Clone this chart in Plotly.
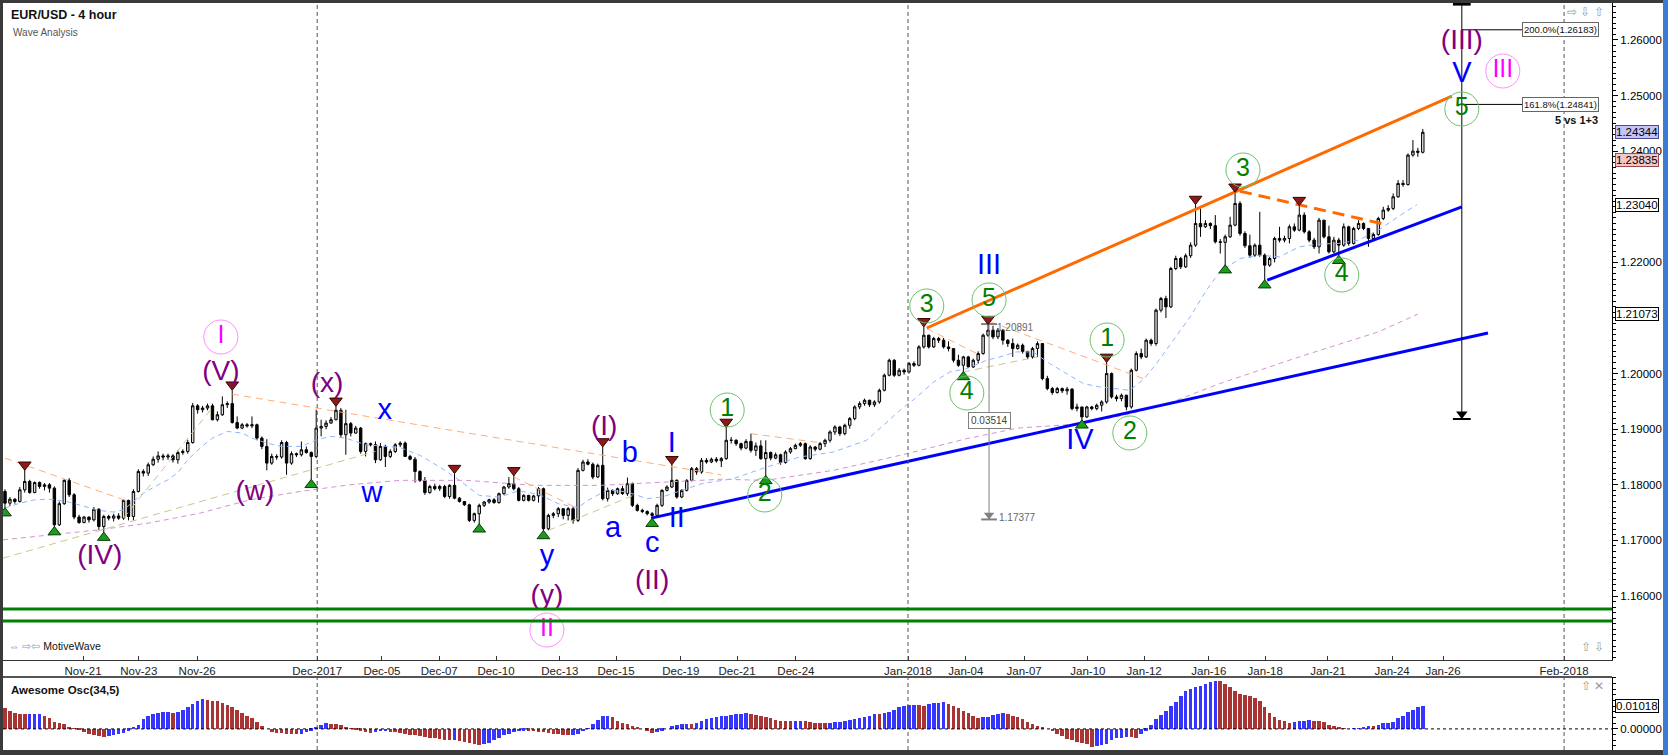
import numpy as np
import plotly.graph_objects as go

FONT = "Liberation Sans, Arial, sans-serif"

# EUR/USD 4-hour bars, prices in 1/10000 units; each bar opens at the previous close
first_open = 11788
closes = [
    11767, 11774, 11770, 11791, 11806, 11786, 11804, 11797, 11800, 11794,
    11728, 11766, 11808, 11782, 11742, 11732, 11742, 11737, 11756, 11725,
    11743, 11740, 11744, 11740, 11772, 11743, 11788, 11824, 11821, 11836,
    11846, 11852, 11850, 11852, 11845, 11858, 11860, 11876, 11942, 11935,
    11938, 11942, 11917, 11926, 11944, 11946, 11912, 11902, 11908, 11906,
    11908, 11884, 11869, 11839, 11851, 11850, 11876, 11839, 11856, 11854,
    11863, 11858, 11851, 11902, 11905, 11911, 11917, 11934, 11890, 11910,
    11893, 11902, 11860, 11874, 11872, 11845, 11869, 11851, 11860, 11872,
    11875, 11851, 11846, 11824, 11808, 11786, 11797, 11793, 11797, 11779,
    11799, 11776, 11770, 11764, 11736, 11748, 11763, 11769, 11773, 11768,
    11784, 11796, 11802, 11793, 11772, 11781, 11772, 11780, 11793, 11721,
    11745, 11748, 11757, 11745, 11757, 11736, 11826, 11841, 11837, 11814,
    11835, 11775, 11790, 11784, 11793, 11784, 11802, 11763, 11754, 11752,
    11748, 11745, 11763, 11790, 11796, 11808, 11778, 11790, 11808, 11829,
    11823, 11844, 11841, 11846, 11843, 11847, 11880, 11880, 11874, 11866,
    11878, 11862, 11870, 11847, 11858, 11848, 11854, 11840, 11859, 11865,
    11871, 11874, 11847, 11868, 11864, 11874, 11880, 11895, 11904, 11892,
    11907, 11919, 11940, 11946, 11952, 11944, 11949, 11970, 11997, 12024,
    11997, 12006, 12003, 12018, 12015, 12048, 12069, 12048, 12063, 12060,
    12048, 12045, 12024, 12015, 12030, 12012, 12024, 12036, 12069, 12078,
    12066, 12078, 12060, 12054, 12045, 12051, 12040, 12030, 12045, 12054,
    11991, 11973, 11966, 11973, 11969, 11972, 11937, 11940, 11922, 11940,
    11937, 11943, 11949, 12000, 11958, 11955, 11961, 11940, 12006, 12036,
    12030, 12060, 12054, 12114, 12135, 12120, 12189, 12207, 12192, 12212,
    12231, 12270, 12264, 12270, 12266, 12237, 12236, 12246, 12267, 12306,
    12252, 12230, 12213, 12231, 12213, 12195, 12207, 12243, 12240, 12243,
    12264, 12258, 12285, 12255, 12240, 12228, 12276, 12246, 12219, 12240,
    12231, 12264, 12234, 12261, 12270, 12261, 12243, 12250, 12279, 12294,
    12297, 12318, 12342, 12340, 12393, 12400, 12398, 12434,
]
highs = [
    11792, 11778, 11776, 11796, 11827, 11809, 11806, 11806, 11803, 11803,
    11797, 11770, 11810, 11812, 11785, 11746, 11744, 11743, 11760, 11758,
    11746, 11746, 11748, 11749, 11774, 11773, 11792, 11828, 11828, 11840,
    11851, 11860, 11856, 11856, 11855, 11862, 11864, 11881, 11947, 11945,
    11942, 11946, 11946, 11932, 11959, 11950, 11970, 11923, 11911, 11911,
    11923, 11910, 11887, 11882, 11856, 11855, 11880, 11879, 11860, 11858,
    11878, 11869, 11860, 11935, 11917, 11916, 11922, 11942, 11938, 11935,
    11913, 11906, 11904, 11876, 11876, 11878, 11875, 11872, 11864, 11875,
    11878, 11878, 11854, 11850, 11826, 11814, 11800, 11802, 11800, 11800,
    11801, 11820, 11778, 11770, 11766, 11750, 11766, 11771, 11775, 11776,
    11786, 11798, 11814, 11818, 11796, 11783, 11782, 11782, 11796, 11795,
    11748, 11751, 11760, 11757, 11760, 11760, 11830, 11845, 11846, 11840,
    11838, 11869, 11795, 11792, 11795, 11798, 11813, 11804, 11766, 11757,
    11754, 11751, 11766, 11792, 11799, 11837, 11810, 11792, 11810, 11832,
    11832, 11848, 11848, 11849, 11850, 11850, 11904, 11886, 11882, 11876,
    11882, 11892, 11876, 11880, 11880, 11860, 11858, 11856, 11862, 11868,
    11874, 11877, 11876, 11871, 11870, 11877, 11883, 11898, 11907, 11906,
    11910, 11922, 11943, 11950, 11955, 11953, 11952, 11973, 12000, 12027,
    12026, 12010, 12009, 12021, 12022, 12051, 12085, 12070, 12066, 12066,
    12064, 12058, 12046, 12034, 12032, 12032, 12027, 12040, 12072, 12089,
    12086, 12082, 12080, 12062, 12063, 12054, 12054, 12040, 12048, 12058,
    12055, 11996, 11976, 11976, 11975, 11976, 11974, 11946, 11940, 11942,
    11942, 11946, 11952, 12021, 12002, 11962, 11964, 11962, 12009, 12040,
    12045, 12063, 12063, 12117, 12138, 12140, 12192, 12212, 12210, 12216,
    12236, 12305, 12297, 12276, 12272, 12285, 12242, 12250, 12282, 12327,
    12310, 12256, 12250, 12234, 12291, 12216, 12210, 12246, 12264, 12248,
    12268, 12270, 12303, 12290, 12258, 12244, 12280, 12276, 12266, 12246,
    12244, 12270, 12266, 12264, 12276, 12272, 12262, 12254, 12282, 12300,
    12303, 12324, 12348, 12348, 12396, 12420, 12406, 12440,
]
lows = [
    11758, 11762, 11766, 11768, 11786, 11784, 11785, 11793, 11790, 11786,
    11724, 11726, 11764, 11778, 11738, 11730, 11731, 11732, 11734, 11719,
    11714, 11736, 11734, 11737, 11737, 11736, 11736, 11786, 11815, 11816,
    11834, 11840, 11844, 11845, 11840, 11838, 11854, 11856, 11874, 11928,
    11930, 11934, 11916, 11914, 11924, 11938, 11910, 11900, 11900, 11903,
    11902, 11880, 11864, 11826, 11836, 11845, 11847, 11818, 11836, 11850,
    11851, 11856, 11809, 11848, 11887, 11900, 11910, 11916, 11886, 11854,
    11887, 11892, 11856, 11851, 11869, 11839, 11843, 11832, 11848, 11857,
    11868, 11850, 11844, 11804, 11805, 11782, 11784, 11790, 11789, 11776,
    11775, 11774, 11768, 11762, 11733, 11732, 11729, 11760, 11766, 11766,
    11766, 11782, 11793, 11790, 11770, 11770, 11770, 11770, 11768, 11717,
    11718, 11740, 11742, 11738, 11736, 11730, 11733, 11824, 11835, 11810,
    11812, 11772, 11770, 11780, 11782, 11782, 11780, 11760, 11752, 11749,
    11745, 11739, 11743, 11760, 11788, 11794, 11775, 11776, 11788, 11806,
    11818, 11820, 11838, 11839, 11840, 11832, 11845, 11874, 11870, 11862,
    11864, 11858, 11852, 11845, 11816, 11844, 11846, 11836, 11838, 11856,
    11864, 11868, 11845, 11845, 11860, 11862, 11868, 11876, 11890, 11888,
    11889, 11901, 11916, 11936, 11942, 11940, 11940, 11946, 11968, 11995,
    11994, 11995, 11998, 12000, 12012, 12013, 12045, 12045, 12046, 12055,
    12045, 12040, 12020, 12012, 12003, 12010, 12010, 12018, 12034, 12066,
    12062, 12062, 12052, 12048, 12030, 12043, 12036, 12026, 12027, 12030,
    11988, 11970, 11962, 11964, 11965, 11962, 11934, 11932, 11916, 11920,
    11934, 11934, 11932, 11946, 11955, 11950, 11950, 11934, 11937, 12004,
    12026, 12028, 12050, 12050, 12110, 12100, 12118, 12186, 12188, 12190,
    12208, 12228, 12246, 12262, 12260, 12234, 12216, 12195, 12244, 12265,
    12248, 12226, 12208, 12210, 12210, 12168, 12192, 12200, 12236, 12236,
    12234, 12255, 12256, 12252, 12236, 12224, 12216, 12243, 12216, 12216,
    12212, 12228, 12230, 12232, 12258, 12258, 12228, 12240, 12248, 12276,
    12291, 12294, 12316, 12336, 12338, 12390, 12390, 12396,
]

# Awesome Oscillator(34,5), one value per bar, in 1/10000 units
ao_values = [
    91, 81, 71, 66, 64, 65, 66, 67, 59, 47,
    32, 25, 22, 10, 3, -3, -12, -22, -26, -32,
    -34, -33, -29, -22, -19, -7, 7, 18, 44, 59,
    65, 69, 73, 74, 71, 74, 85, 96, 109, 125,
    132, 129, 125, 121, 115, 106, 96, 84, 71, 59,
    47, 32, 12, 0, -12, -18, -19, -21, -22, -24,
    -22, -12, -7, 7, 18, 25, 22, 21, 18, 7,
    3, -3, -7, -15, -19, -15, -10, -9, -12, -13,
    -18, -22, -26, -29, -32, -35, -38, -41, -44, -47,
    -49, -48, -53, -56, -62, -66, -71, -68, -62, -50,
    -41, -29, -22, -15, -10, -7, -8, -10, -12, -15,
    -18, -22, -24, -26, -29, -27, -22, -10, 3, 22,
    41, 56, 59, 51, 37, 26, 21, 15, 7, 0,
    -7, -18, -15, -7, 0, 12, 18, 21, 22, 21,
    26, 37, 44, 49, 51, 56, 59, 63, 66, 67,
    69, 66, 62, 59, 51, 47, 41, 35, 34, 33,
    34, 35, 33, 29, 26, 25, 24, 26, 29, 32,
    37, 41, 44, 47, 51, 59, 66, 65, 71, 76,
    85, 96, 103, 106, 107, 106, 103, 110, 113, 115,
    118, 110, 103, 91, 81, 69, 56, 50, 51, 53,
    62, 66, 71, 66, 59, 51, 44, 32, 22, 12,
    7, 0, -10, -22, -32, -44, -51, -59, -62, -66,
    -78, -75, -72, -66, -47, -41, -38, -35, -37, -38,
    -22, -7, 18, 44, 62, 81, 100, 118, 144, 169,
    176, 184, 191, 198, 206, 213, 212, 198, 184, 169,
    154, 150, 144, 135, 125, 96, 71, 51, 41, 37,
    26, 29, 34, 37, 38, 37, 34, 29, 19, 12,
    6, 3, 0, 2, 3, 10, 15, 14, 16, 25,
    26, 32, 47, 59, 74, 85, 95, 102,
]

# moving averages (bar position, value in 1/10000)
fast_ma_bars = [0, 3, 6, 9, 12.5, 16, 19, 22, 24, 26, 28, 31, 33, 35, 37, 39.5, 42, 45, 48, 50,
                53, 56, 60, 63, 66, 69, 73, 77, 80, 84, 88, 92, 96, 100, 104, 108, 112, 116, 118, 122,
                126, 130, 133, 137, 141, 147.4, 154.2, 160.9, 167.7, 174.4, 181.2, 184.6, 188, 191.3,
                194.7, 198.7, 201.4, 204.8, 208.1, 211.5, 214.9, 218.3, 221.6, 225, 227.7, 230.5,
                233.1, 236.5, 239.9, 243.2, 245.9, 250, 254, 258, 262, 266, 270, 274, 278, 282, 285.8]
fast_ma = [11758, 11767, 11773, 11774, 11770, 11761, 11754, 11751, 11755, 11770, 11785, 11800, 11809,
           11822, 11845, 11866, 11884, 11896, 11893, 11884, 11875, 11869, 11869, 11881, 11887, 11884,
           11872, 11869, 11867, 11853, 11832, 11808, 11781, 11778, 11789, 11783, 11766, 11759, 11772,
           11791, 11787, 11775, 11778, 11790, 11802, 11811, 11832, 11850, 11859, 11880, 11934, 11958,
           11985, 12003, 12009, 12024, 12030, 12039, 12039, 12018, 12000, 11982, 11976, 11973, 11970,
           11990, 12018, 12060, 12102, 12150, 12183, 12207, 12213, 12210, 12228, 12233, 12234, 12240,
           12258, 12282, 12304]
slow_ma_bars = [-0.4, 9, 19, 29, 39.5, 49.6, 59.7, 69.8, 80, 93.5, 107, 120.5, 134, 145, 154, 167.7,
                181.2, 194.7, 205, 218.3, 228.4, 235.1, 245.9, 262, 278, 286]
slow_ma = [11701, 11710, 11719, 11731, 11749, 11773, 11788, 11800, 11808, 11808, 11799, 11799, 11805,
           11810, 11808, 11826, 11853, 11883, 11902, 11910, 11929, 11945, 11982, 12030, 12075, 12107]

date_labels = ["Nov-21", "Nov-23", "Nov-26", "Dec-2017", "Dec-05", "Dec-07", "Dec-10", "Dec-13",
               "Dec-15", "Dec-19", "Dec-21", "Dec-24", "Jan-2018", "Jan-04", "Jan-07", "Jan-10",
               "Jan-12", "Jan-16", "Jan-18", "Jan-21", "Jan-24", "Jan-26", "Feb-2018"]
date_bars = [15.8, 27.1, 38.9, 63.2, 76.3, 87.9, 99.4, 112.3, 123.7, 136.8, 148.2, 160.1, 182.8,
             194.5, 206.3, 219.2, 230.6, 243.7, 255.1, 267.8, 280.8, 291.1, 315.6]
month_bars = [63.2, 182.8, 315.6]

# swing markers
top_bars = [4, 46, 67, 91, 103, 121, 135, 146, 186, 199, 223, 241, 249, 262]
top_marks = [11836, 11980, 11951, 11830, 11826, 11878, 11846, 11913, 12094, 12098, 12030, 12314, 12336, 12312]
bottom_bars = [0, 10, 20, 62, 96, 109, 131, 154, 194, 218, 247, 255, 270]
bottom_marks = [11749, 11715, 11705, 11800, 11720, 11708, 11730, 11807, 11994, 11907, 12186, 12159, 12203]

support_levels = [1.15766, 1.15550]
channel_top = ([186.6, 292.9], [1.2082, 1.2499])
wedge_top = ([250, 280], [1.2328, 1.2267])
trend_long = ([130.8, 300.2], [1.1740, 1.2073])
trend_short = ([255.5, 294.9], [1.2168, 1.2300])
auto_orange = [([0, 25], [1.1848, 1.1770]), ([46, 145], [1.1963, 1.1818]), ([103, 116], [1.1814, 1.1757]),
               ([151, 164.7], [1.1892, 1.1876]), ([186.6, 197.4], [1.2081, 1.2033]),
               ([199.5, 230.4], [1.2093, 1.1991])]
auto_khaki = [([-0.4, 75], [1.1668, 1.1860]), ([24, 42.2], [1.1740, 1.1941]),
              ([110, 127.2], [1.1718, 1.1781]), ([194, 209], [1.2003, 1.2030])]

measure_bar, measure_top, measure_bottom = 199.2, 1.20891, 1.17377
fib_bar, fib_target_bottom = 294.9, 1.19183
fib_levels = [(1.26183, "200.0%(1.26183)"), (1.24841, "161.8%(1.24841)")]
axis_values = [(1.24344, "#c4c4f8", "#4a4a90"), (1.23835, "#f6c6c6", "#9a4a4a"),
               (1.23040, "#ffffff", "#000000"), (1.21073, "#ffffff", "#000000")]
ao_last = 0.01018

X_RANGE = [-0.4, 325.3]
PRICE_RANGE = [1.14849, 1.26665]
AO_RANGE = [-0.0093, 0.0229]


def px_x(px):
    return (px - 3) / 1609


def px_y(py):
    return (750 - py) / 747


bars = np.arange(len(closes))
c = np.array(closes) / 1e4
o = np.concatenate([[first_open / 1e4], c[:-1]])
h = np.maximum.reduce([np.array(highs) / 1e4, o, c])
l = np.minimum.reduce([np.array(lows) / 1e4, o, c])
ao = np.array(ao_values) / 1e4
ao_colors = ["#a83434"] + ["#3636ff" if ao[i] > ao[i - 1] else "#a83434" for i in range(1, len(ao))]

fig = go.Figure()

# indicator lines behind the candles
fig.add_trace(go.Scatter(x=slow_ma_bars, y=np.array(slow_ma) / 1e4, mode="lines",
                         line=dict(color="#d393d3", width=1, dash="5px,4px")))
fig.add_trace(go.Scatter(x=fast_ma_bars, y=np.array(fast_ma) / 1e4, mode="lines",
                         line=dict(color="#93b3ff", width=1, dash="5px,4px")))
for xs, ys in auto_orange:
    fig.add_trace(go.Scatter(x=xs, y=ys, mode="lines", line=dict(color="#ffad7a", width=1, dash="7px,5px")))
for xs, ys in auto_khaki:
    fig.add_trace(go.Scatter(x=xs, y=ys, mode="lines", line=dict(color="#c9c68e", width=1, dash="7px,5px")))

fig.add_trace(go.Candlestick(
    x=bars, open=o, high=h, low=l, close=c,
    increasing=dict(line=dict(color="#000000", width=1), fillcolor="#dcdcdc"),
    decreasing=dict(line=dict(color="#000000", width=1), fillcolor="#000000"),
    whiskerwidth=0, hoverinfo="skip",
))

# drawn trend lines
fig.add_trace(go.Scatter(x=trend_long[0], y=trend_long[1], mode="lines", line=dict(color="#0000ff", width=3)))
fig.add_trace(go.Scatter(x=trend_short[0], y=trend_short[1], mode="lines", line=dict(color="#0000ff", width=3)))
fig.add_trace(go.Scatter(x=channel_top[0], y=channel_top[1], mode="lines", line=dict(color="#ff6a00", width=3)))
fig.add_trace(go.Scatter(x=wedge_top[0], y=wedge_top[1], mode="lines",
                         line=dict(color="#ff6a00", width=3, dash="12px,7px")))

# measurement tool
fig.add_trace(go.Scatter(x=[measure_bar, measure_bar], y=[measure_top, measure_bottom], mode="lines",
                         line=dict(color="#808080", width=1)))
for yv in (measure_top, measure_bottom):
    fig.add_trace(go.Scatter(x=[measure_bar - 1.6, measure_bar + 1.6], y=[yv, yv], mode="lines",
                             line=dict(color="#808080", width=2)))
fig.add_trace(go.Scatter(x=[measure_bar], y=[measure_bottom + 0.0008], mode="markers",
                         marker=dict(symbol="triangle-down", size=9, color="#808080")))

# fibonacci projection tool
fig.add_trace(go.Scatter(x=[fib_bar, fib_bar], y=[fib_target_bottom, PRICE_RANGE[1]], mode="lines",
                         line=dict(color="#000000", width=1)))
fig.add_trace(go.Scatter(x=[fib_bar - 1.8, fib_bar + 1.8], y=[fib_target_bottom] * 2, mode="lines",
                         line=dict(color="#000000", width=2)))
fig.add_trace(go.Scatter(x=[fib_bar - 1.8, fib_bar + 1.8], y=[PRICE_RANGE[1] - 0.0002] * 2, mode="lines",
                         line=dict(color="#000000", width=3)))
fig.add_trace(go.Scatter(x=[fib_bar], y=[fib_target_bottom + 0.0009], mode="markers",
                         marker=dict(symbol="triangle-down", size=10, color="#000000")))
for level, _ in fib_levels:
    fig.add_trace(go.Scatter(x=[fib_bar, 307.1], y=[level, level], mode="lines",
                             line=dict(color="#000000", width=1)))

# swing high / low markers
fig.add_trace(go.Scatter(x=top_bars, y=np.array(top_marks) / 1e4, mode="markers",
                         marker=dict(symbol="triangle-down", size=11, color="#8b1a1a",
                                     line=dict(color="#3a0000", width=1))))
fig.add_trace(go.Scatter(x=bottom_bars, y=np.array(bottom_marks) / 1e4, mode="markers",
                         marker=dict(symbol="triangle-up", size=11, color="#1f9a1f",
                                     line=dict(color="#004000", width=1))))

# wave labels
blue_waves = [("x", 76.9, 1.19313), ("w", 74.3, 1.17817), ("y", 109.7, 1.16683), ("a", 123.1, 1.17187),
              ("b", 126.5, 1.18536), ("c", 131.0, 1.16917), ("I", 135.0, 1.18716), ("II", 136.0, 1.17367),
              ("III", 199.2, 1.21917), ("IV", 217.6, 1.18770), ("V", 294.9, 1.25370)]
purple_waves = [("(IV)", 19.2, 1.16700), ("(V)", 43.7, 1.20011), ("(x)", 65.2, 1.19795),
                ("(w)", 50.6, 1.17853), ("(I)", 121.3, 1.19022), ("(y)", 109.7, 1.15982),
                ("(II)", 131.0, 1.16252), ("(III)", 294.9, 1.25964)]
green_waves = [("1", 146.2, 1.19345), ("2", 153.8, 1.17817), ("3", 186.6, 1.21216), ("4", 194.7, 1.19651),
               ("5", 199.2, 1.21324), ("1", 223.1, 1.20604), ("2", 227.7, 1.18932), ("3", 250.6, 1.23662),
               ("4", 270.6, 1.21773), ("5", 294.9, 1.24759)]
pink_waves = [("I", 43.7, 1.20658), ("II", 109.7, 1.15388), ("III", 303.2, 1.25442)]

for waves, color, size in ((blue_waves, "#0000ff", 29), (purple_waves, "#800080", 28)):
    fig.add_trace(go.Scatter(x=[w[1] for w in waves], y=[w[2] for w in waves], text=[w[0] for w in waves],
                             mode="text", textposition="middle center",
                             textfont=dict(family=FONT, size=size, color=color)))
for waves, ring, color in ((green_waves, "#6cc26c", "#008000"), (pink_waves, "#ff8cff", "#ff00ff")):
    fig.add_trace(go.Scatter(x=[w[1] for w in waves], y=[w[2] for w in waves], text=[w[0] for w in waves],
                             mode="markers+text", textposition="middle center",
                             marker=dict(symbol="circle-open", size=34, color=ring, line=dict(width=1)),
                             textfont=dict(family=FONT, size=25, color=color)))

# awesome oscillator
fig.add_trace(go.Bar(x=bars, y=ao, marker=dict(color=ao_colors, line=dict(width=0)), width=0.72,
                     xaxis="x2", yaxis="y2", hoverinfo="skip"))

shapes = []
for mb in month_bars:
    for yref in ("y domain", "y2 domain"):
        shapes.append(dict(type="line", xref="x", yref=yref, x0=mb, x1=mb, y0=0, y1=1,
                           line=dict(color="#555555", width=1, dash="4px,3px")))
for lvl in support_levels:
    shapes.append(dict(type="line", xref="paper", yref="y", x0=0, x1=1, y0=lvl, y1=lvl,
                       line=dict(color="#008000", width=3)))
shapes.append(dict(type="line", xref="paper", yref="y2", x0=0, x1=1, y0=0, y1=0,
                   line=dict(color="#000000", width=1, dash="3px,3px")))
# panel frames
shapes.append(dict(type="line", xref="paper", yref="paper", x0=0, x1=1, y0=px_y(677), y1=px_y(677),
                   line=dict(color="#555555", width=2)))
shapes.append(dict(type="rect", xref="paper", yref="paper", x0=-0.01, x1=1.05, y0=1.0, y1=1.01,
                   fillcolor="#3a3a3a", line=dict(width=0)))
shapes.append(dict(type="rect", xref="paper", yref="paper", x0=-0.01, x1=0.0, y0=-0.01, y1=1.01,
                   fillcolor="#3a3a3a", line=dict(width=0)))
shapes.append(dict(type="rect", xref="paper", yref="paper", x0=-0.01, x1=1.05, y0=-0.01, y1=0.0,
                   fillcolor="#3a3a3a", line=dict(width=0)))
shapes.append(dict(type="rect", xref="paper", yref="paper", x0=px_x(1663), x1=1.05, y0=-0.01, y1=1.01,
                   fillcolor="#3a7bd5", line=dict(width=0)))

annotations = [
    dict(text="<b>EUR/USD - 4 hour</b>", x=px_x(9), y=px_y(15), xref="paper", yref="paper",
         xanchor="left", yanchor="middle", showarrow=False, font=dict(family=FONT, size=12.5, color="#111")),
    dict(text="Wave Analysis", x=px_x(11), y=px_y(32), xref="paper", yref="paper",
         xanchor="left", yanchor="middle", showarrow=False, font=dict(family=FONT, size=10, color="#555")),
    dict(text="<b>Awesome Osc(34,5)</b>", x=px_x(9), y=px_y(690), xref="paper", yref="paper",
         xanchor="left", yanchor="middle", showarrow=False, font=dict(family=FONT, size=11.5, color="#111")),
    dict(text="<span style='color:#9a9a9a'>⇔ ⇨⇦</span> MotiveWave", x=px_x(7), y=px_y(646),
         xref="paper", yref="paper", xanchor="left", yanchor="middle", showarrow=False,
         font=dict(family=FONT, size=10.5, color="#111")),
    dict(text="⇨ ⇩ ⇧", x=px_x(1606), y=px_y(12), xref="paper", yref="paper", xanchor="right",
         yanchor="middle", showarrow=False, font=dict(family=FONT, size=12, color="#9a9a9a")),
    dict(text="⇧ ⇩", x=px_x(1606), y=px_y(647), xref="paper", yref="paper", xanchor="right",
         yanchor="middle", showarrow=False, font=dict(family=FONT, size=12, color="#9a9a9a")),
    dict(text="⇧ ✕", x=px_x(1606), y=px_y(686), xref="paper", yref="paper", xanchor="right",
         yanchor="middle", showarrow=False, font=dict(family=FONT, size=12, color="#9a9a9a")),
    dict(text=f"{measure_top:.5f}", x=measure_bar + 1.2, y=measure_top - 0.0006, xref="x", yref="y",
         xanchor="left", yanchor="middle", showarrow=False, font=dict(family=FONT, size=10, color="#666")),
    dict(text=f"{measure_bottom:.5f}", x=measure_bar + 1.6, y=measure_bottom + 0.0004, xref="x", yref="y",
         xanchor="left", yanchor="middle", showarrow=False, font=dict(family=FONT, size=10, color="#666")),
    dict(text=f"{measure_top - measure_bottom:.5f}", x=measure_bar, y=1.1915, xref="x", yref="y",
         xanchor="center", yanchor="middle", showarrow=False, bgcolor="#ffffff", bordercolor="#808080",
         borderwidth=1, borderpad=2, font=dict(family=FONT, size=10, color="#444")),
    dict(text="<b>5 vs 1+3</b>", x=322.9, y=1.2456, xref="x", yref="y", xanchor="right", yanchor="middle",
         showarrow=False, font=dict(family=FONT, size=11, color="#111")),
    dict(text=f"{ao_last:.5f}", x=1, y=ao_last, xref="paper", yref="y2", xanchor="left", yanchor="middle",
         xshift=3, showarrow=False, bgcolor="#ffffff", bordercolor="#000000", borderwidth=1, borderpad=0,
         font=dict(family=FONT, size=11.5, color="#000")),
]
for level, label in fib_levels:
    annotations.append(dict(text=label, x=307.1, y=level, xref="x", yref="y", xanchor="left",
                            yanchor="middle", showarrow=False, bgcolor="#ffffff", bordercolor="#666666",
                            borderwidth=1, borderpad=1, font=dict(family=FONT, size=9.5, color="#111")))
for value, bg, border in axis_values:
    annotations.append(dict(text=f"{value:.5f}", x=1, y=value, xref="paper", yref="y", xanchor="left",
                            yanchor="middle", xshift=3, showarrow=False, bgcolor=bg, bordercolor=border,
                            borderwidth=1, borderpad=0, font=dict(family=FONT, size=11.5, color="#000")))

# 1.21 and 1.23 sit under the value boxes on the reference, so their labels stay blank
price_ticks = [1.16, 1.17, 1.18, 1.19, 1.20, 1.21, 1.22, 1.23, 1.24, 1.25, 1.26]
hidden_ticks = [1.21, 1.23]
price_ticktext = ["" if t in hidden_ticks else f"{t:.5f}" for t in price_ticks]

fig.update_layout(
    width=1668, height=755,
    margin=dict(l=3, r=56, t=3, b=5),
    paper_bgcolor="#ffffff", plot_bgcolor="#ffffff",
    showlegend=False, hovermode=False,
    font=dict(family=FONT, size=11.5, color="#000"),
    xaxis=dict(domain=[0, 1], range=X_RANGE, anchor="y", tickmode="array", tickvals=date_bars,
               ticktext=date_labels, ticks="inside", ticklen=4, tickcolor="#333", showline=True,
               linecolor="#333", linewidth=1, showgrid=False, zeroline=False,
               tickfont=dict(family=FONT, size=11.5, color="#222"), rangeslider=dict(visible=False)),
    yaxis=dict(domain=[px_y(660), 1], range=PRICE_RANGE, side="right", anchor="x", tickmode="array",
               tickvals=price_ticks, ticktext=price_ticktext, ticks="outside",
               ticklen=5, tickcolor="#000", showline=True, linecolor="#000", showgrid=False,
               zeroline=False, tickfont=dict(family=FONT, size=11.5, color="#000"),
               minor=dict(tickmode="linear", tick0=1.16, dtick=0.001, ticks="outside", ticklen=3,
                          tickcolor="#000", showgrid=False)),
    xaxis2=dict(domain=[0, 1], range=X_RANGE, anchor="y2", matches="x", showticklabels=False,
                ticks="", showline=False, showgrid=False, zeroline=False),
    yaxis2=dict(domain=[0, px_y(677)], range=AO_RANGE, side="right", anchor="x2", tickmode="array",
                tickvals=[0], ticktext=["0.00000"], ticks="outside", ticklen=5, tickcolor="#000",
                showline=True, linecolor="#000", showgrid=False, zeroline=False,
                tickfont=dict(family=FONT, size=11.5, color="#000"),
                minor=dict(tickmode="linear", tick0=0, dtick=0.0025, ticks="outside", ticklen=3,
                           tickcolor="#000", showgrid=False)),
    shapes=shapes,
    annotations=annotations,
    bargap=0,
)

# the page's default body margin would push the 1668x755 figure off the window edge
fig.write_html("out.html", config={"displayModeBar": False},
               post_script="document.body.style.margin='0px';document.body.style.overflow='hidden';")
